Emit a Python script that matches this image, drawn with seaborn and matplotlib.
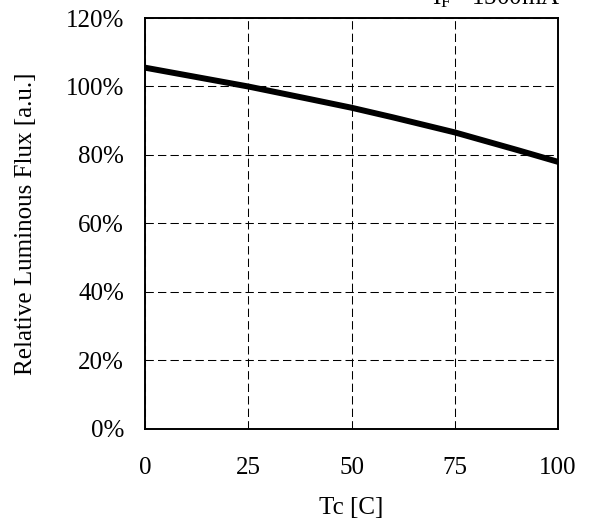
import matplotlib
matplotlib.use('Agg')
import matplotlib.pyplot as plt
import seaborn as sns
import pandas as pd
from matplotlib.ticker import PercentFormatter

# values
tc = [0, 10, 25, 40, 50, 60, 75, 90, 100]
flux = [105.5, 103.3, 100.0, 96.3, 93.8, 91.0, 86.6, 81.5, 78.0]

sns.set_theme(style='white')
plt.rcParams['font.family'] = 'serif'
plt.rcParams['font.serif'] = ['Liberation Serif']
plt.rcParams['mathtext.fontset'] = 'custom'
plt.rcParams['mathtext.rm'] = 'Liberation Serif'
plt.rcParams['mathtext.it'] = 'Liberation Serif:italic'

df = pd.DataFrame({'Tc': tc, 'Flux': flux})

fig = plt.figure(figsize=(5.89, 5.31), dpi=100)
ax = fig.add_axes([0.2462, 0.1921, 0.7012, 0.7740])
sns.lineplot(data=df, x='Tc', y='Flux', color='black', linewidth=4.3, ax=ax)

ax.set_xlim(0, 100)
ax.set_ylim(0, 120)
ax.set_xticks([0, 25, 50, 75, 100])
ax.set_yticks(range(0, 121, 20))
ax.yaxis.set_major_formatter(PercentFormatter(decimals=0))
ax.grid(True, color='black', linestyle=(0, (8, 4)), linewidth=0.75)
for s in ax.spines.values():
    s.set_color('black')
    s.set_linewidth(1.4)
ax.tick_params(axis='both', labelsize=18, colors='black', length=0)
ax.tick_params(axis='x', pad=20)
ax.tick_params(axis='y', pad=15)
ax.set_xlabel('Tc [C]', fontsize=18, labelpad=13, color='black')
ax.set_ylabel('Relative Luminous Flux [a.u.]', fontsize=18, labelpad=21, color='black')

fig.text(0.951, 0.9925, 'I$_\\mathrm{F}$= 1500mA', fontsize=18, ha='right', va='baseline', color='black')

fig.savefig('out.png', dpi=100)
